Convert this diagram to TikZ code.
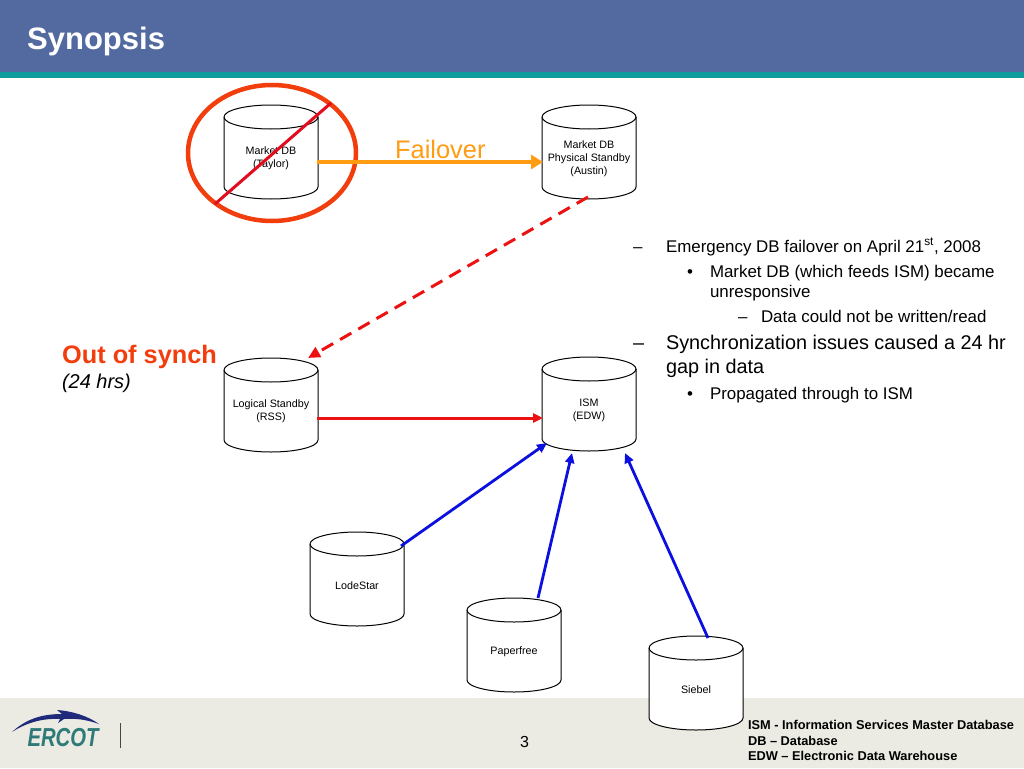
\documentclass[tikz,border=0pt]{standalone}
\usepackage{fontspec}
\usepackage{graphicx}
\setmainfont{Liberation Sans}
\usetikzlibrary{arrows.meta}
\definecolor{hdr}{HTML}{526AA0}
\definecolor{teal2}{HTML}{0E9C9C}
\definecolor{foot}{HTML}{EBEBE3}
\definecolor{ring}{HTML}{F23D0C}
\definecolor{slash}{HTML}{E30B1E}
\definecolor{fail}{HTML}{FF9C12}
\definecolor{arrred}{HTML}{EE1111}
\definecolor{arrblue}{HTML}{0B10E0}
\definecolor{navy}{HTML}{1F2A7A}
\definecolor{logot}{HTML}{2E7A78}
\tikzset{
  dbbody/.style={draw=black,fill=white,line width=1pt},
  dbtext/.style={inner sep=0pt,outer sep=0pt,minimum width=94pt,minimum height=84pt,align=center,
    font=\fontsize{10.75}{13}\selectfont},
  txt/.style={anchor=base west,inner sep=0pt,outer sep=0pt,text=black},
  sm/.style={txt,font=\fontsize{16.9}{18}\selectfont},
  bg/.style={txt,font=\fontsize{19.85}{22}\selectfont},
  leg/.style={txt,font=\fontsize{12.8}{14}\selectfont\bfseries},
  blueconn/.style={-{Triangle[length=10pt,width=9pt]},arrblue,line width=2.8pt},
}
\newcommand{\dbcyl}[4]{%
  \filldraw[dbbody] (#2-47,#3-35) arc[start angle=180,end angle=360,x radius=47,y radius=12]
    -- (#2+47,#3+35) arc[start angle=0,end angle=180,x radius=47,y radius=12] -- cycle;
  \draw[dbbody,fill=none] (#2-47,#3-35) arc[start angle=180,end angle=0,x radius=47,y radius=12];
  \node[dbtext] (#1) at (#2,#3+6.5) {#4};
}
\begin{document}
\begin{tikzpicture}[x=1pt,y=-1pt]
\useasboundingbox (0,0) rectangle (1024,768);
\fill[white] (0,0) rectangle (1024,768);
\fill[hdr] (0,0) rectangle (1024,72);
\fill[teal2] (0,72) rectangle (1024,78);
\fill[foot] (0,698) rectangle (1024,768);
\node[anchor=base west,inner sep=0pt,text=white,font=\fontsize{31}{34}\selectfont\bfseries] (title) at (27,49) {Synopsis};

% databases
\dbcyl{taylor}{271}{152}{Market DB\\(Taylor)}
\dbcyl{austin}{589}{152}{Market DB\\Physical Standby\\(Austin)}
\dbcyl{rss}{271}{405}{Logical Standby\\(RSS)}
\dbcyl{ism}{589}{404}{ISM\\(EDW)}
\dbcyl{lode}{357}{579}{LodeStar}
\dbcyl{paper}{514}{645}{Paperfree}
\dbcyl{siebel}{696}{683}{Siebel}

% ring and slash
\draw[ring,line width=4.5pt] (272,153) ellipse [x radius=84,y radius=68];
\draw[slash,line width=3pt] (215,204) -- (331,103);

% connectors
\draw[-{Triangle[length=12pt,width=14pt]},fail,line width=4.5pt] ([shift={(46,3.5)}]taylor.center) -- ([shift={(-46,3.5)}]austin.center);
\draw[-{Triangle[length=12pt,width=11pt]},arrred,line width=3pt,dash pattern=on 13pt off 8pt] ([shift={(-1,38.5)}]austin.center) -- ([shift={(37,-53.5)}]rss.center);
\draw[-{Triangle[length=10pt,width=9pt]},arrred,line width=3pt] ([shift={(46,6.5)}]rss.center) -- ([shift={(-46,7.5)}]ism.center);
\draw[blueconn] ([shift={(44,-39.5)}]lode.center) -- ([shift={(-42,32.5)}]ism.center);
\draw[blueconn] ([shift={(24,-53.5)}]paper.center) -- ([shift={(-17,42.5)}]ism.center);
\draw[blueconn] ([shift={(12,-51.5)}]siebel.center) -- ([shift={(36,42.5)}]ism.center);

% labels
\node[anchor=base west,inner sep=0pt,text=fail,font=\fontsize{25.4}{28}\selectfont] (failover) at (395,158) {Failover};
\node[anchor=base west,inner sep=0pt,text=ring,font=\fontsize{25.3}{28}\selectfont\bfseries] (oos) at (62,363) {Out of synch};
\node[txt,font=\fontsize{20}{22}\selectfont\itshape] (hrs) at (62,388) {(24 hrs)};

% bullet list
\node[sm] (d1) at (633,252) {–};
\node[sm] (t1) at (666,252) {Emergency DB failover on April 21\textsuperscript{st}, 2008};
\node[sm] (d2) at (687,277) {•};
\node[sm] (t2) at (710,277) {Market DB (which feeds ISM) became};
\node[sm] (t2b) at (710,297) {unresponsive};
\node[sm] (d3) at (738,322) {–};
\node[sm] (t3) at (761,322) {Data could not be written/read};
\node[bg] (d4) at (633,349) {–};
\node[bg] (t4) at (666,349) {Synchronization issues caused a 24 hr};
\node[bg] (t4b) at (666,373) {gap in data};
\node[sm] (d5) at (687,399) {•};
\node[sm] (t5) at (710,399) {Propagated through to ISM};

% footer
\node[txt,font=\fontsize{16}{18}\selectfont] (page) at (520,747) {3};
\node[leg] (l1) at (748,729) {ISM - Information Services Master Database};
\node[leg] (l2) at (748,745) {DB – Database};
\node[leg] (l3) at (748,760) {EDW – Electronic Data Warehouse};

% logo
\fill[navy] (12,732) .. controls (25,720) and (40,714) .. (62,714) -- (57,710) .. controls (72,711) and (88,716) .. (99,724) .. controls (88,720) and (76,718) .. (64,719) -- (58,723) -- (60,719) .. controls (42,718) and (26,723) .. (12,732) -- cycle;
\node[anchor=base,inner sep=0pt,text=logot,font=\fontsize{26}{28}\selectfont\bfseries\itshape] (ercot) at (63,746) {\scalebox{0.78}[1]{ERCOT}};
\draw[black!70!foot,line width=1pt] (120,723) -- (120,748);
\end{tikzpicture}
\end{document}
